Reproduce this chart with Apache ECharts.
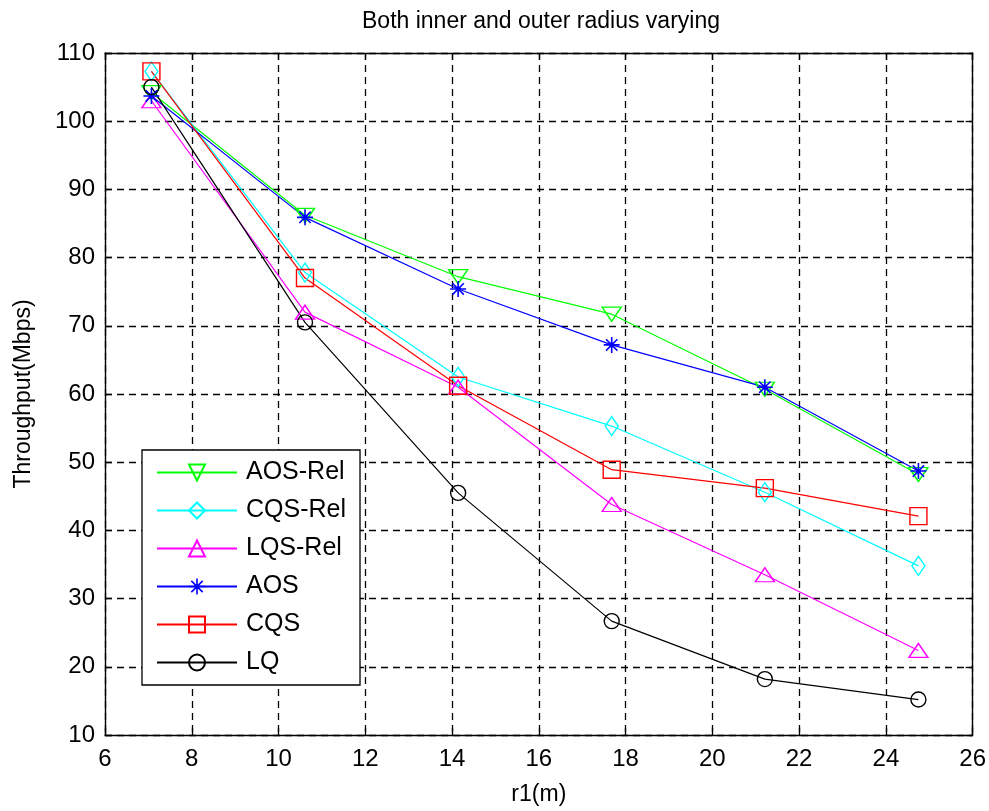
<!DOCTYPE html>
<html>
<head>
<meta charset="utf-8">
<script src="https://cdn.jsdelivr.net/npm/echarts@6/dist/echarts.min.js"></script>
<style>
  html, body { margin: 0; padding: 0; background: #fff; }
  #chart { width: 989px; height: 811px; }
</style>
</head>
<body>
<div id="chart"></div>
<script>
// r1 (m) sample positions
const r1 = [7.07, 10.61, 14.14, 17.68, 21.21, 24.75];

// Throughput (Mbps) per scheme
const aosRel = [104.2, 86.2, 77.2, 71.7, 60.7, 48.2];
const cqsRel = [107.3, 77.8, 62.5, 55.3, 45.6, 34.8];
const lqsRel = [103.0, 72.0, 61.0, 43.8, 33.5, 22.4];
const aos    = [103.7, 85.9, 75.4, 67.2, 61.0, 48.7];
const cqs    = [107.3, 77.0, 61.2, 48.9, 46.2, 42.1];
const lq     = [105.0, 70.5, 45.5, 26.7, 18.2, 15.2];

const names = ['AOS-Rel', 'CQS-Rel', 'LQS-Rel', 'AOS', 'CQS', 'LQ'];

const xTicks = [6, 8, 10, 12, 14, 16, 18, 20, 22, 24, 26];
const yTicks = [10, 20, 30, 40, 50, 60, 70, 80, 90, 100, 110];

const FONT = 'Liberation Sans';

// Asterisk marker built from thin bars
const starPath = 'path://M9,0 L11,0 L11,20 L9,20 Z M0,9 L20,9 L20,11 L0,11 Z ' +
  'M2.2,3.6 L3.6,2.2 L17.8,16.4 L16.4,17.8 Z M16.4,2.2 L17.8,3.6 L3.6,17.8 L2.2,16.4 Z ' +
  'M7,7 L13,7 L13,13 L7,13 Z';

function mk(name, data, color, symbol, size, opts) {
  return Object.assign({
    name: name,
    type: 'line',
    data: r1.map((x, i) => [x, data[i]]),
    symbol: symbol,
    symbolSize: size,
    showAllSymbol: true,
    lineStyle: { color: color, width: 1.2 },
    itemStyle: { color: 'rgba(255,255,255,0)', borderColor: color, borderWidth: 1.4 },
    emphasis: { disabled: true },
    animation: false,
    z: 3
  }, opts || {});
}

const series = [
  mk('AOS-Rel', aosRel, '#00ff00', 'triangle', [19, 14], { symbolRotate: 180 }),
  mk('CQS-Rel', cqsRel, '#00ffff', 'diamond', [13, 19]),
  mk('LQS-Rel', lqsRel, '#ff00ff', 'triangle', [19, 14]),
  mk('AOS', aos, '#0000ff', starPath, 16, {
    itemStyle: { color: '#0000ff', borderWidth: 0 }
  }),
  mk('CQS', cqs, '#ff0000', 'rect', 17),
  mk('LQ', lq, '#000000', 'circle', 15)
];

const axisLabelStyle = { color: '#000', fontFamily: FONT, fontSize: 24 };
const dashed = { show: true, lineStyle: { color: '#000', type: [7, 5], width: 1.3 } };
const boxLine = { show: true, onZero: false, lineStyle: { color: '#000', width: 1.4 } };
const tick = { show: true, inside: true, length: 7, lineStyle: { color: '#000', width: 1.3 } };

const chart = echarts.init(document.getElementById('chart'), null, { renderer: 'canvas' });
chart.setOption({
  backgroundColor: '#fff',
  animation: false,
  title: {
    text: 'Both inner and outer radius varying',
    left: 536, top: 5, textAlign: 'center',
    textStyle: { fontFamily: FONT, fontSize: 23, fontWeight: 'normal', color: '#000' }
  },
  grid: { left: 105, right: 16, top: 53, bottom: 73, show: false },
  xAxis: [{
    type: 'value', min: 6, max: 26, interval: 2,
    name: 'r1(m)', nameLocation: 'middle', nameGap: 48,
    nameTextStyle: { fontFamily: FONT, fontSize: 23, color: '#000' },
    axisLine: boxLine,
    axisTick: tick,
    axisLabel: Object.assign({ margin: 12, formatter: v => xTicks.includes(v) ? String(v) : '' }, axisLabelStyle),
    splitLine: dashed
  }, {
    type: 'value', min: 6, max: 26, interval: 2, position: 'top',
    axisLine: boxLine, axisTick: tick,
    axisLabel: { show: false }, splitLine: { show: false }
  }],
  yAxis: [{
    type: 'value', min: 10, max: 110, interval: 10,
    name: 'Throughput(Mbps)', nameLocation: 'middle', nameGap: 70, nameRotate: 90,
    nameTextStyle: { fontFamily: FONT, fontSize: 23, color: '#000' },
    axisLine: boxLine,
    axisTick: tick,
    axisLabel: Object.assign({ margin: 10, formatter: v => yTicks.includes(v) ? String(v) : '' }, axisLabelStyle),
    splitLine: dashed
  }, {
    type: 'value', min: 10, max: 110, interval: 10, position: 'right',
    axisLine: boxLine, axisTick: tick,
    axisLabel: { show: false }, splitLine: { show: false }
  }],
  legend: {
    data: names,
    orient: 'vertical',
    left: 142, top: 450,
    padding: [10, 14, 10, 14],
    itemGap: 13,
    itemWidth: 80, itemHeight: 20,
    backgroundColor: '#fff',
    borderColor: '#000', borderWidth: 1.3,
    textStyle: { fontFamily: FONT, fontSize: 25, lineHeight: 25, color: '#000', padding: [0, 0, 0, 4] },
    selectedMode: false
  },
  series: series
});
</script>
</body>
</html>
